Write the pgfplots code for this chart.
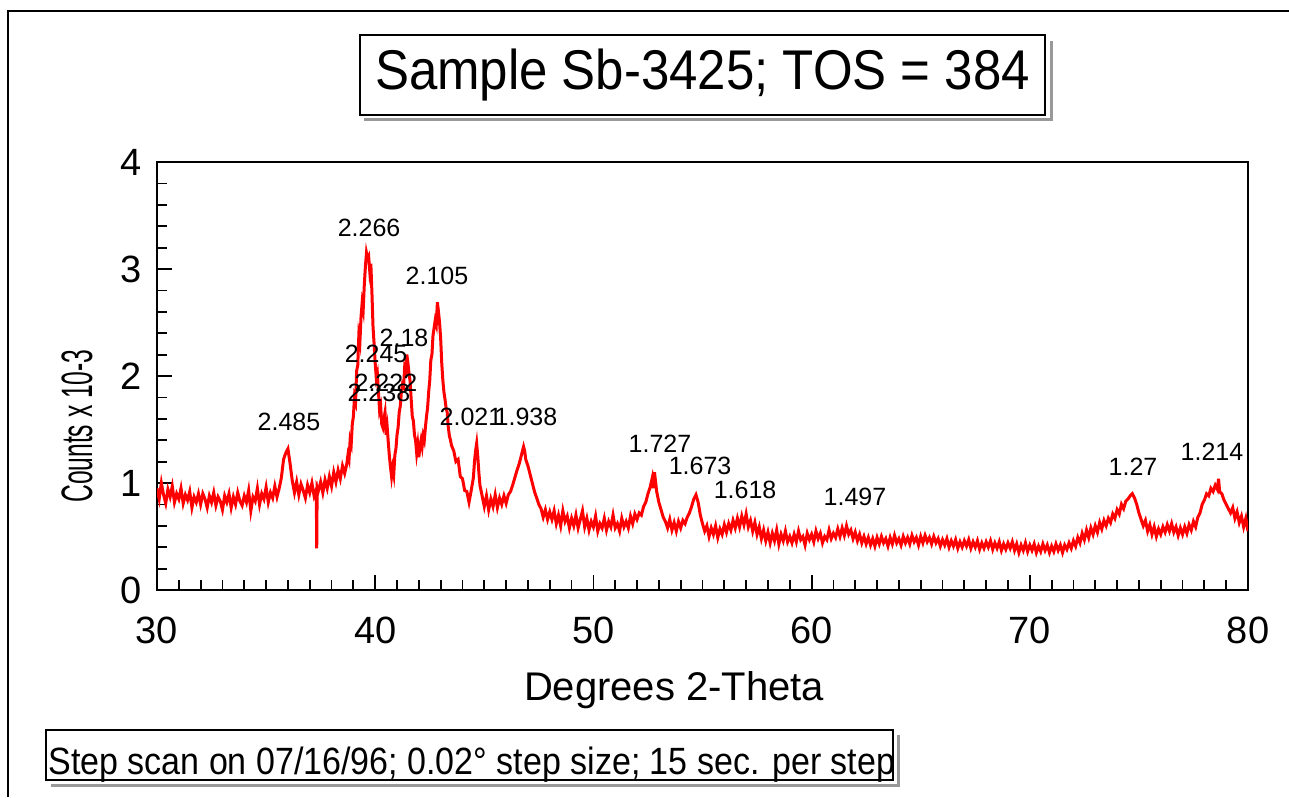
\documentclass[border=0pt]{standalone}
\usepackage{pgfplots}
\pgfplotsset{compat=1.18}
\usepackage{fontspec}
\setmainfont{Liberation Sans}
\usepackage{graphicx}

\begin{document}
\begin{tikzpicture}
\useasboundingbox (0,0) rectangle (644.5pt,398.5pt);
% outer frame (top and left only)
\draw[line width=0.75pt] (4pt,0pt) -- (4pt,393pt) -- (644.5pt,393pt);

\begin{axis}[
  at={(78.5pt,103.5pt)}, anchor=south west,
  scale only axis, width=545.5pt, height=214pt,
  xmin=30, xmax=80, ymin=0, ymax=4,
  xtick={30,40,...,80}, ytick={0,1,2,3,4},
  minor x tick num=9, minor y tick num=4,
  xtick pos=bottom, ytick pos=left,
  tick align=inside,
  major tick length=7.5pt, minor tick length=5pt,
  axis line style={line width=1pt},
  every tick/.style={black, line width=0.9pt},
  /pgf/number format/assume math mode=true,
  tick label style={font=\fontsize{19}{22}\selectfont},
  xticklabel style={yshift=-10pt},
  yticklabel style={xshift=-4pt},
  xlabel={Degrees 2-Theta},
  xlabel style={at={(axis description cs:0.474,-0.234)}, anchor=center, font=\fontsize{20}{24}\selectfont},
  ylabel={\scalebox{0.56}[1]{Counts x 10-3}},
  ylabel style={at={(axis description cs:-0.0733,0.383)}, anchor=center, font=\fontsize{22}{24}\selectfont},
  clip=true,
]
\addplot[red, line width=1.5pt] coordinates {
(30.0,0.95) (30.1,0.85) (30.2,1.00) (30.3,0.89) (30.4,0.81) (30.5,0.94) (30.6,0.87) (30.7,0.97) (30.8,0.82) (30.9,0.90)
(31.0,0.85) (31.1,0.95) (31.2,0.81) (31.3,0.89) (31.4,0.84) (31.5,0.92) (31.6,0.77) (31.7,0.87) (31.8,0.82) (31.9,0.90)
(32.0,0.80) (32.1,0.90) (32.2,0.85) (32.3,0.77) (32.4,0.88) (32.5,0.82) (32.6,0.91) (32.7,0.79) (32.8,0.87) (32.9,0.83)
(33.0,0.75) (33.1,0.88) (33.2,0.82) (33.3,0.90) (33.4,0.77) (33.5,0.87) (33.6,0.80) (33.7,0.91) (33.8,0.83) (33.9,0.79)
(34.0,0.88) (34.1,0.82) (34.2,0.93) (34.3,0.74) (34.4,0.87) (34.5,0.83) (34.6,0.95) (34.7,0.80) (34.8,0.90) (34.9,0.85)
(35.0,0.96) (35.1,0.82) (35.2,0.91) (35.3,0.86) (35.4,0.97) (35.5,0.87) (35.6,0.95) (35.7,1.05) (35.8,1.22) (35.9,1.28)
(36.0,1.32) (36.1,1.18) (36.2,1.02) (36.3,0.91) (36.4,1.01) (36.5,0.89) (36.6,0.99) (36.7,0.93) (36.8,0.86) (36.9,0.98)
(37.0,0.91) (37.1,1.00) (37.2,0.88) (37.3,0.94) (37.32,0.39) (37.34,0.96) (37.4,0.93) (37.5,1.01) (37.6,0.91) (37.7,1.03) (37.8,0.95) (37.9,1.06)
(38.0,0.97) (38.1,1.10) (38.2,1.01) (38.3,1.12) (38.4,1.04) (38.5,1.16) (38.6,1.09)
(38.7,1.18) (38.75,1.26) (38.8,1.22) (38.85,1.40) (38.9,1.36) (38.95,1.55) (39.0,1.62) (39.05,1.80) (39.1,1.76) (39.15,2.05)
(39.2,2.10) (39.25,2.38) (39.3,2.32) (39.35,2.55) (39.4,2.68) (39.45,2.62) (39.5,2.85) (39.55,3.02) (39.6,3.15) (39.65,3.10)
(39.7,3.12) (39.75,2.98) (39.8,3.05) (39.85,2.78) (39.9,2.46) (39.95,2.30) (40.0,2.12) (40.05,1.98) (40.1,2.02) (40.15,1.85)
(40.2,1.68) (40.25,1.72) (40.3,1.55) (40.35,1.52) (40.4,1.60) (40.45,1.66) (40.5,1.45) (40.55,1.52) (40.6,1.38) (40.65,1.25)
(40.7,1.15) (40.75,1.06) (40.8,1.14) (40.85,1.08) (40.9,1.26) (40.95,1.32) (41.0,1.45) (41.05,1.52) (41.1,1.66) (41.15,1.72)
(41.2,1.85) (41.25,1.92) (41.3,1.90) (41.35,2.08) (41.4,2.05) (41.45,2.20) (41.5,2.12) (41.55,2.02) (41.6,1.95) (41.65,1.78)
(41.7,1.62) (41.75,1.58) (41.8,1.45) (41.85,1.40) (41.9,1.28) (41.95,1.36) (42.0,1.24) (42.05,1.34) (42.1,1.40) (42.15,1.34)
(42.2,1.44) (42.25,1.40) (42.3,1.52) (42.35,1.62) (42.4,1.70) (42.45,1.85) (42.5,1.96) (42.55,2.15) (42.6,2.20) (42.65,2.38)
(42.7,2.45) (42.75,2.52) (42.8,2.48) (42.85,2.69) (42.9,2.60) (42.95,2.50) (43.0,2.35) (43.05,2.12) (43.1,1.96) (43.15,1.85)
(43.2,1.78) (43.25,1.70) (43.3,1.66) (43.35,1.52) (43.4,1.44) (43.45,1.40) (43.5,1.35)
(43.6,1.30) (43.7,1.20) (43.8,1.22) (43.9,1.06) (44.0,1.04) (44.1,0.93) (44.2,0.92) (44.3,0.82) (44.4,0.93) (44.5,1.05)
(44.55,1.20) (44.6,1.30) (44.65,1.37) (44.7,1.25) (44.75,1.10) (44.8,0.98) (44.9,0.88) (45.0,0.78) (45.1,0.88) (45.2,0.75)
(45.3,0.85) (45.4,0.78) (45.5,0.89) (45.6,0.77) (45.7,0.86) (45.8,0.80) (45.9,0.88) (46.0,0.81) (46.1,0.89) (46.2,0.92)
(46.3,0.98) (46.4,1.05) (46.5,1.12) (46.6,1.18) (46.7,1.26) (46.8,1.34) (46.85,1.30) (46.9,1.22) (47.0,1.16) (47.1,1.08)
(47.2,1.00) (47.3,0.92) (47.4,0.86) (47.5,0.80) (47.6,0.76) (47.7,0.68) (47.8,0.75) (47.9,0.66) (48.0,0.73) (48.1,0.66)
(48.2,0.74) (48.3,0.62) (48.4,0.70) (48.5,0.60) (48.6,0.74) (48.7,0.64) (48.8,0.69) (48.9,0.58) (49.0,0.67)
(49.1,0.60) (49.2,0.70) (49.3,0.58) (49.4,0.66) (49.5,0.74) (49.6,0.59) (49.7,0.67) (49.8,0.56) (49.9,0.64) (50.0,0.59)
(50.1,0.69) (50.2,0.55) (50.3,0.62) (50.4,0.58) (50.5,0.67) (50.6,0.56) (50.7,0.64) (50.8,0.59) (50.9,0.70) (51.0,0.58)
(51.1,0.62) (51.2,0.55) (51.3,0.67) (51.4,0.59) (51.5,0.64) (51.6,0.58) (51.7,0.69) (51.8,0.62) (51.9,0.71) (52.0,0.66)
(52.1,0.72) (52.2,0.70) (52.3,0.78) (52.4,0.82) (52.5,0.90) (52.6,0.96) (52.7,1.05) (52.75,0.95) (52.8,1.10) (52.9,0.92)
(53.0,0.82) (53.1,0.75) (53.2,0.68) (53.3,0.64) (53.4,0.58) (53.5,0.66) (53.6,0.56) (53.7,0.63) (53.8,0.55) (53.9,0.64)
(54.0,0.58) (54.1,0.65) (54.2,0.62) (54.3,0.68) (54.4,0.72) (54.5,0.78) (54.6,0.85) (54.7,0.89) (54.8,0.82) (54.9,0.70)
(55.0,0.62) (55.1,0.55) (55.2,0.60) (55.3,0.50) (55.4,0.58) (55.5,0.52) (55.6,0.60) (55.7,0.49) (55.8,0.57) (55.9,0.52)
(56.0,0.61) (56.1,0.54) (56.2,0.62) (56.3,0.56) (56.4,0.65) (56.5,0.58) (56.6,0.67) (56.7,0.59) (56.8,0.69) (56.9,0.61)
(57.0,0.71) (57.1,0.59) (57.2,0.65) (57.3,0.55) (57.4,0.63) (57.5,0.52) (57.6,0.59) (57.7,0.48) (57.8,0.56) (57.9,0.46)
(58.0,0.54) (58.1,0.44) (58.2,0.53) (58.3,0.46) (58.4,0.56) (58.5,0.43) (58.6,0.52) (58.7,0.46) (58.8,0.55) (58.9,0.45)
(59.0,0.50) (59.1,0.44) (59.2,0.52) (59.3,0.45) (59.4,0.55) (59.5,0.47) (59.6,0.50) (59.7,0.42) (59.8,0.53) (59.9,0.47)
(60.0,0.52) (60.1,0.45) (60.2,0.55) (60.3,0.48) (60.4,0.53) (60.5,0.44) (60.6,0.50) (60.7,0.47) (60.8,0.56) (60.9,0.48)
(61.0,0.53) (61.1,0.49) (61.2,0.57) (61.3,0.50) (61.4,0.58) (61.5,0.51) (61.6,0.60) (61.7,0.52) (61.8,0.56) (61.9,0.48)
(62.0,0.54) (62.1,0.46) (62.2,0.52) (62.3,0.44) (62.4,0.50) (62.5,0.43) (62.6,0.49) (62.7,0.42) (62.8,0.48) (62.9,0.41)
(63.0,0.49) (63.1,0.43) (63.2,0.50) (63.3,0.44) (63.4,0.48) (63.5,0.41) (63.6,0.49) (63.7,0.43) (63.8,0.51) (63.9,0.44)
(64.0,0.48) (64.1,0.42) (64.2,0.50) (64.3,0.44) (64.4,0.49) (64.5,0.43) (64.6,0.51) (64.7,0.45) (64.8,0.49) (64.9,0.42)
(65.0,0.50) (65.1,0.44) (65.2,0.51) (65.3,0.45) (65.4,0.49) (65.5,0.43) (65.6,0.50) (65.7,0.44) (65.8,0.48) (65.9,0.41)
(66.0,0.47) (66.1,0.42) (66.2,0.48) (66.3,0.40) (66.4,0.46) (66.5,0.41) (66.6,0.47) (66.7,0.39) (66.8,0.45) (66.9,0.40)
(67.0,0.46) (67.1,0.41) (67.2,0.47) (67.3,0.39) (67.4,0.45) (67.5,0.40) (67.6,0.46) (67.7,0.38) (67.8,0.44) (67.9,0.39)
(68.0,0.45) (68.1,0.40) (68.2,0.46) (68.3,0.38) (68.4,0.44) (68.5,0.39) (68.6,0.45) (68.7,0.37) (68.8,0.43) (68.9,0.38)
(69.0,0.44) (69.1,0.39) (69.2,0.45) (69.3,0.37) (69.4,0.43) (69.5,0.35) (69.6,0.42) (69.7,0.37) (69.8,0.44) (69.9,0.36)
(70.0,0.42) (70.1,0.37) (70.2,0.43) (70.3,0.35) (70.4,0.41) (70.5,0.36) (70.6,0.43) (70.7,0.37) (70.8,0.42) (70.9,0.35)
(71.0,0.41) (71.1,0.36) (71.2,0.43) (71.3,0.37) (71.4,0.42) (71.5,0.35) (71.6,0.42) (71.7,0.38) (71.8,0.44) (71.9,0.39)
(72.0,0.46) (72.1,0.41) (72.2,0.49) (72.3,0.44) (72.4,0.53) (72.5,0.47) (72.6,0.56) (72.7,0.49) (72.8,0.58) (72.9,0.52)
(73.0,0.60) (73.1,0.54) (73.2,0.63) (73.3,0.57) (73.4,0.65) (73.5,0.60) (73.6,0.67) (73.7,0.63) (73.8,0.71) (73.9,0.67)
(74.0,0.75) (74.1,0.71) (74.2,0.80) (74.3,0.76) (74.4,0.83) (74.5,0.85) (74.6,0.88) (74.7,0.90) (74.8,0.86) (74.9,0.80)
(75.0,0.72) (75.1,0.66) (75.2,0.60) (75.3,0.65) (75.4,0.55) (75.5,0.61) (75.6,0.52) (75.7,0.59) (75.8,0.50) (75.9,0.57)
(76.0,0.52) (76.1,0.59) (76.2,0.54) (76.3,0.61) (76.4,0.55) (76.5,0.62) (76.6,0.54) (76.7,0.59) (76.8,0.51) (76.9,0.58)
(77.0,0.52) (77.1,0.59) (77.2,0.53) (77.3,0.61) (77.4,0.56) (77.5,0.64) (77.6,0.59) (77.7,0.68) (77.8,0.72) (77.9,0.80)
(78.0,0.84) (78.1,0.90) (78.2,0.88) (78.3,0.95) (78.4,0.92) (78.5,0.98) (78.6,0.94) (78.65,1.04) (78.7,0.92) (78.8,0.90)
(78.9,0.84) (79.0,0.80) (79.1,0.76) (79.2,0.72) (79.3,0.77) (79.4,0.67) (79.5,0.73) (79.6,0.63) (79.7,0.69) (79.8,0.59)
(79.9,0.67) (80.0,0.55)
};
% peak d-spacing labels
\begin{scope}[every node/.style={font=\fontsize{12.5}{14}\selectfont, inner sep=0pt}]
\node at (axis cs:39.72,3.38) {2.266};
\node at (axis cs:42.83,2.94) {2.105};
\node at (axis cs:41.32,2.36) {2.18};
\node at (axis cs:40.04,2.21) {2.245};
\node at (axis cs:40.49,1.94) {2.222};
\node at (axis cs:40.17,1.84) {2.238};
\node at (axis cs:36.05,1.57) {2.485};
\node at (axis cs:44.39,1.62) {2.021};
\node at (axis cs:46.91,1.62) {1.938};
\node at (axis cs:53.05,1.37) {1.727};
\node at (axis cs:54.89,1.16) {1.673};
\node at (axis cs:56.95,0.94) {1.618};
\node at (axis cs:61.99,0.87) {1.497};
\node at (axis cs:74.73,1.15) {1.27};
\node at (axis cs:78.35,1.29) {1.214};
\end{scope}
\end{axis}

% title box with shadow
\draw[black!40, line width=1.5pt] (182pt,338.5pt) -- (525.75pt,338.5pt) -- (525.75pt,378pt);
\draw[line width=1pt, fill=white] (180pt,341pt) rectangle (522.5pt,381pt);
\node[anchor=base, inner sep=0pt] at (351.25pt,353.5pt)
  {\scalebox{0.91}[1]{\fontsize{28}{32}\selectfont Sample Sb-3425; TOS = 384}};

% note box with shadow
\draw[black!40, line width=1.5pt] (25.5pt,6pt) -- (449pt,6pt) -- (449pt,31pt);
\draw[line width=1pt, fill=white] (23pt,8.5pt) rectangle (446.5pt,33.5pt);
\node[anchor=base west, inner sep=0pt] at (24pt,11pt)
  {\scalebox{0.895}[1]{\fontsize{19}{22}\selectfont Step scan on 07/16/96; 0.02° step size; 15 sec. per step}};
\end{tikzpicture}
\end{document}
